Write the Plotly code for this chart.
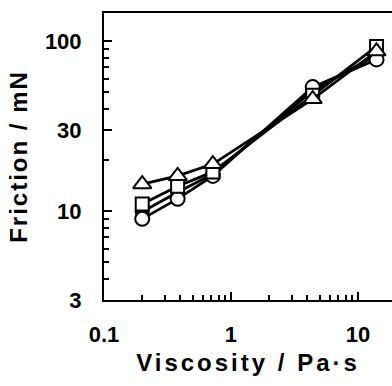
import numpy as np
import plotly.graph_objects as go

viscosity = [0.2, 0.38, 0.72, 4.4, 14]
friction_triangle = [14.4, 16.1, 18.9, 45.6, 87]
friction_square = [11.0, 14.0, 17.0, 48, 93]
friction_filled = [9.9, 12.9, 16.5, 51, 83]
friction_circle = [9.0, 11.8, 16.1, 53.6, 78]

y_tick_vals = [3, 10, 30, 100]
y_tick_text = ["3", "10", "30", "100"]
y_minor_vals = [4, 5, 6, 7, 8, 9, 20, 40, 50, 60, 70, 80, 90]
x_tick_vals = [0.1, 1, 10]
x_tick_text = ["0.1", "1", "10"]
x_minor_vals = [0.2, 0.3, 0.4, 0.5, 0.6, 0.7, 0.8, 0.9, 2, 3, 4, 5, 6, 7, 8, 9]

fig = go.Figure()

def add(y, symbol, fill, size):
    fig.add_trace(go.Scatter(
        x=viscosity, y=y, mode="lines+markers",
        line=dict(color="black", width=2.8),
        marker=dict(symbol=symbol, size=size,
                    color="black" if fill else "white",
                    line=dict(color="black", width=2)),
        showlegend=False))

add(friction_filled, "circle", True, 13)
add(friction_circle, "circle", False, 14)
add(friction_square, "square", False, 13)
add(friction_triangle, "triangle-up", False, 16)

font_tick = dict(family="Liberation Sans, Arial, sans-serif", size=22, color="black", weight="bold")
font_title = dict(family="Liberation Sans, Arial, sans-serif", size=24, color="black", weight="bold")

def spaced(t, px):
    return '<span style="letter-spacing:%gpx">' % px + t + '</span>'

fig.update_layout(
    width=392, height=386,
    margin=dict(l=104, r=0, t=13, b=86),
    paper_bgcolor="white", plot_bgcolor="white",
    xaxis=dict(
        type="log", range=[-1, 1.268],
        tickvals=x_tick_vals, ticktext=x_tick_text,
        ticks="inside", ticklen=8, tickwidth=2, tickcolor="black",
        minor=dict(tickvals=x_minor_vals, ticks="inside", ticklen=5, tickwidth=2, tickcolor="black"),
        showline=True, linewidth=2, linecolor="black", mirror=True,
        showgrid=False, zeroline=False,
        tickfont=font_tick, ticklabelstandoff=14,
        title=dict(text=spaced("Viscosity / Pa·s", 3), font=font_title, standoff=8),
    ),
    yaxis=dict(
        type="log", range=[np.log10(3), 2.165],
        tickvals=y_tick_vals, ticktext=y_tick_text,
        ticks="inside", ticklen=8, tickwidth=2, tickcolor="black",
        minor=dict(tickvals=y_minor_vals, ticks="inside", ticklen=5, tickwidth=2, tickcolor="black"),
        showline=True, linewidth=2, linecolor="black", mirror=False,
        showgrid=False, zeroline=False,
        tickfont=font_tick, ticklabelstandoff=16,
        title=dict(text=spaced("Friction / mN", 2), font=font_title, standoff=10),
    ),
)

fig.write_html("out.html")
